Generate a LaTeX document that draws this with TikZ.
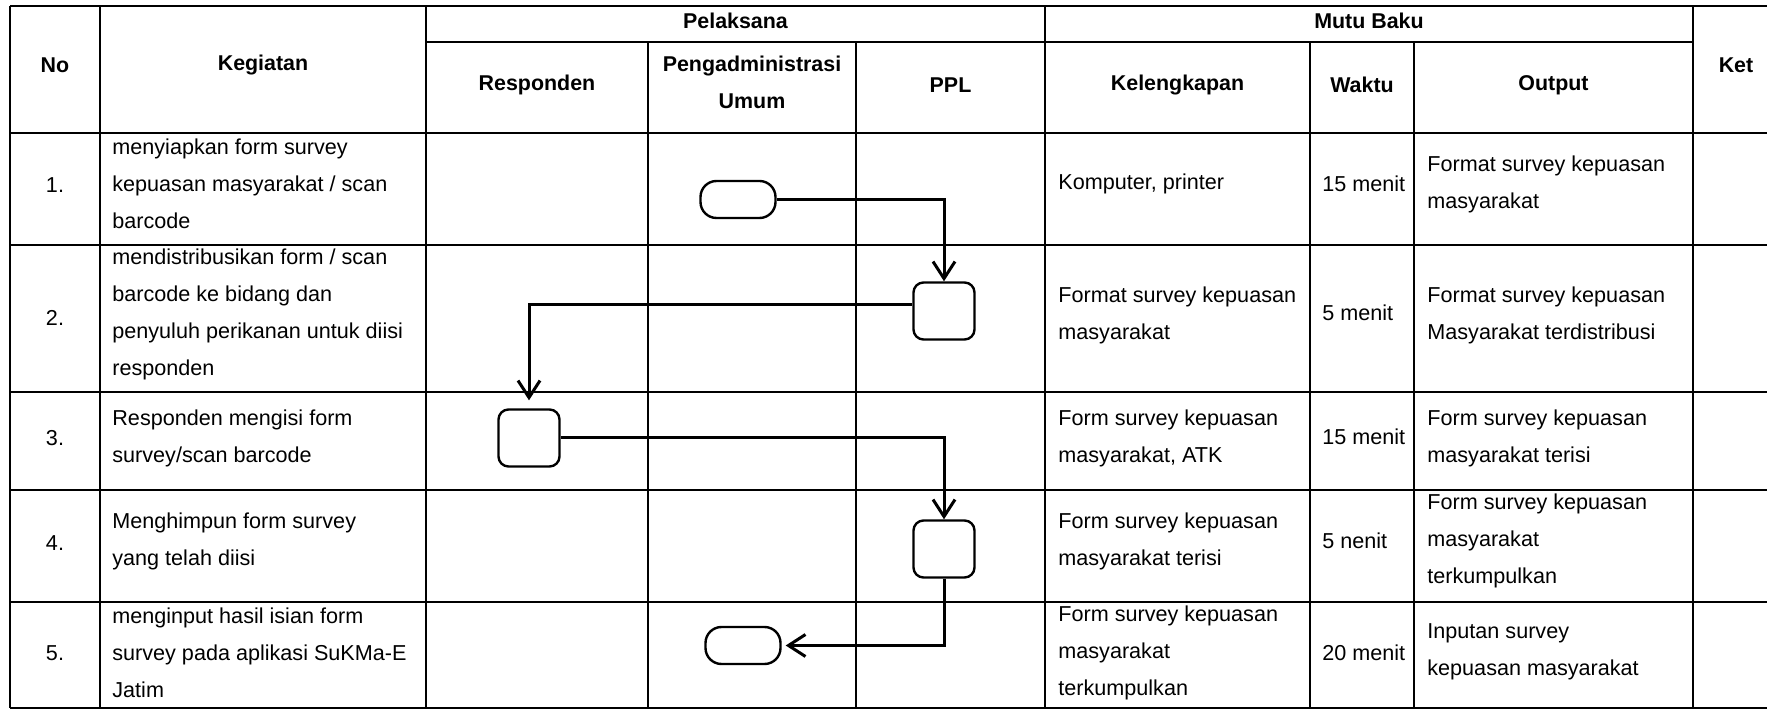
\documentclass[tikz,border=0pt]{standalone}
\usepackage{fontspec}
\setmainfont{Liberation Sans}
\usetikzlibrary{arrows.meta}
\begin{document}
\begin{tikzpicture}[x=0.5pt,y=-0.5pt,
  tbl/.style={line width=1.2pt},
  hd/.style={font=\bfseries\fontsize{10.7}{18.5}\selectfont, align=center, inner sep=0pt},
  tx/.style={font=\fontsize{10.8}{18.5}\selectfont, align=left, anchor=west, inner sep=0pt},
  num/.style={font=\fontsize{10.8}{18.5}\selectfont, inner sep=0pt},
  procbox/.style={draw, line width=1.2pt, rounded corners=5pt, minimum width=30.5pt, minimum height=28.5pt, inner sep=0pt},
  termbox/.style={draw, line width=1.2pt, rounded corners=8pt, minimum width=37.5pt, minimum height=18.5pt, inner sep=0pt},
  flow/.style={line width=1.5pt, -{Straight Barb[length=8.5pt,width=11pt]}}
]
\useasboundingbox (0,0) rectangle (1767,710);
\fill[white] (0,0) rectangle (1767,710);

% table grid
\draw[tbl] (10,6) -- (1767,6);
\draw[tbl] (426,42) -- (1693,42);
\foreach \yy in {133,245,392,490,602,708} \draw[tbl] (10,\yy) -- (1767,\yy);
\foreach \xx in {10,100,426,1045,1693} \draw[tbl] (\xx,6) -- (\xx,708);
\foreach \xx in {648,856,1310,1414} \draw[tbl] (\xx,42) -- (\xx,708);

% header
\node[hd] (hNo) at (55,65) {No};
\node[hd] (hKeg) at (263,65) {Kegiatan};
\node[hd] (hPel) at (735.5,21) {Pelaksana};
\node[hd] (hResp) at (537,85) {Responden};
\node[hd] (hPeng) at (752,82) {Pengadministrasi\\Umum};
\node[hd] (hPPL) at (950.5,85) {PPL};
\node[hd] (hMutu) at (1369,21) {Mutu Baku};
\node[hd] (hKel) at (1177.5,85) {Kelengkapan};
\node[hd] (hWak) at (1362,85) {Waktu};
\node[hd] (hOut) at (1553.5,85) {Output};
\node[hd] (hKet) at (1736,65) {Ket};

% row 1
\node[num] (n1) at (55,185) {1.};
\node[tx] (k1) at (112,184) {menyiapkan form survey\\kepuasan masyarakat / scan\\barcode};
\node[tx] (l1) at (1058,184) {Komputer, printer};
\node[tx] (w1) at (1322,184) {15 menit};
\node[tx] (o1) at (1427,184) {Format survey kepuasan\\masyarakat};

% row 2
\node[num] (n2) at (55,318) {2.};
\node[tx] (k2) at (112,314) {mendistribusikan form / scan\\barcode ke bidang dan\\penyuluh perikanan untuk diisi\\responden};
\node[tx] (l2) at (1058,315) {Format survey kepuasan\\masyarakat};
\node[tx] (w2) at (1322,313) {5 menit};
\node[tx] (o2) at (1427,315) {Format survey kepuasan\\Masyarakat terdistribusi};

% row 3
\node[num] (n3) at (55,438) {3.};
\node[tx] (k3) at (112,438) {Responden mengisi form\\survey/scan barcode};
\node[tx] (l3) at (1058,438) {Form survey kepuasan\\masyarakat, ATK};
\node[tx] (w3) at (1322,437) {15 menit};
\node[tx] (o3) at (1427,438) {Form survey kepuasan\\masyarakat terisi};

% row 4
\node[num] (n4) at (55,543) {4.};
\node[tx] (k4) at (112,541) {Menghimpun form survey\\yang telah diisi};
\node[tx] (l4) at (1058,541) {Form survey kepuasan\\masyarakat terisi};
\node[tx] (w4) at (1322,541) {5 nenit};
\node[tx] (o4) at (1427,541) {Form survey kepuasan\\masyarakat\\terkumpulkan};

% row 5
\node[num] (n5) at (55,653) {5.};
\node[tx] (k5) at (112,653) {menginput hasil isian form\\survey pada aplikasi SuKMa-E\\Jatim};
\node[tx] (l5) at (1058,653) {Form survey kepuasan\\masyarakat\\terkumpulkan};
\node[tx] (w5) at (1322,653) {20 menit};
\node[tx] (o5) at (1427,652) {Inputan survey\\kepuasan masyarakat};

% flow shapes
\node[termbox] (b1) at (738,199.5) {};
\node[procbox] (b2) at (944,311) {};
\node[procbox] (b3) at (529,438) {};
\node[procbox] (b4) at (944,549) {};
\node[termbox] (b5) at (743,645.5) {};

% connectors
\draw[flow] (b1.east) -| (b2.north);
\draw[flow, shorten >=4pt] (b2.168) -| (b3.north);
\draw[flow] (b3.east) -| (b4.north);
\draw[flow, shorten >=2pt] (b4.south) |- (b5.east);
\end{tikzpicture}
\end{document}
